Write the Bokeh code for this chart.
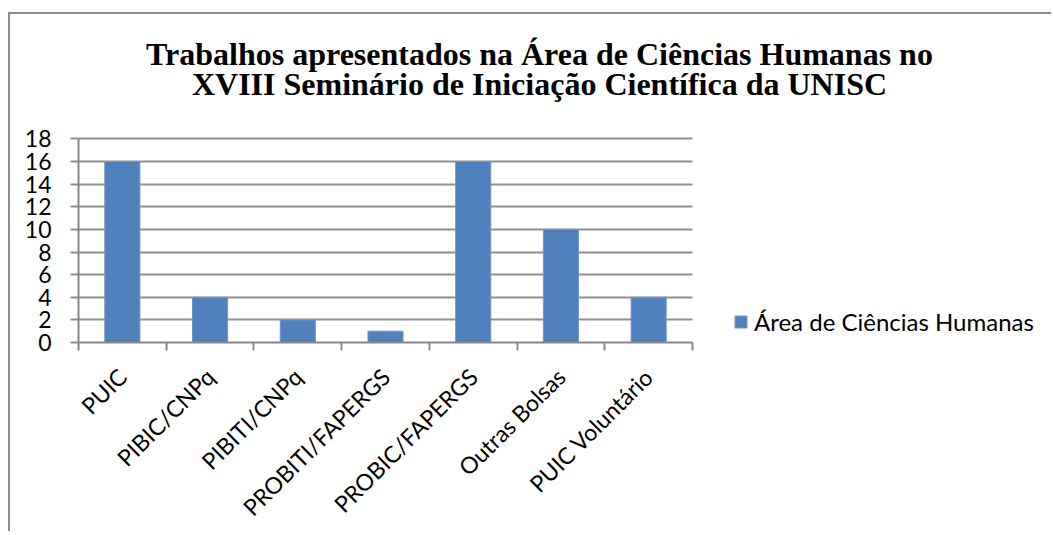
from math import pi
from bokeh.plotting import figure
from bokeh.models import FixedTicker, Legend, LegendItem, Range1d, Label, Grid
from bokeh.embed import file_html
from bokeh.resources import INLINE

categories = ["PUIC", "PIBIC/CNPq", "PIBITI/CNPq", "PROBITI/FAPERGS",
              "PROBIC/FAPERGS", "Outras Bolsas", "PUIC Voluntário"]
counts = [16, 4, 2, 1, 16, 10, 4]
y_ticks = [0, 2, 4, 6, 8, 10, 12, 14, 16, 18]
series_name = "Área de Ciências Humanas"
title_lines = ["Trabalhos apresentados na Área de Ciências Humanas no",
               "XVIII Seminário de Iniciação Científica da UNISC"]

BAR = "#4F81BD"
AX = "#868686"
GRID = "#8f8f8f"
FONT = "Lato"
FS = "23px"

n = len(categories)
xs = list(range(n))
y_max = y_ticks[-1]

# layout (pixels)
W, H = 1043, 519
LEFT, BOTTOM = 68, 187
frame_w, frame_h = W - LEFT, H - BOTTOM
plot_w, plot_h = 614, 206          # width/height of the category/value area
x_lo, x_hi = -0.5, n - 0.5
x_end = x_lo + n * frame_w / plot_w
y_end = y_max * frame_h / plot_h

p = figure(width=W, height=H, output_backend="svg", toolbar_location=None,
           title=None,
           x_range=Range1d(x_lo, x_end), y_range=Range1d(0, y_end),
           min_border_left=LEFT, min_border_right=0,
           min_border_top=0, min_border_bottom=BOTTOM)
p.styles = {"border-top": "2px solid #8a8a8a", "border-left": "2px solid #8a8a8a",
            "margin-top": "12px", "margin-left": "8px"}
p.outline_line_color = None
p.background_fill_color = "white"
p.border_fill_color = "white"

# grid lines limited to the value area
p.xgrid.visible = False
yg = p.ygrid[0]
yg.ticker = FixedTicker(ticks=y_ticks, minor_ticks=[])
yg.bounds = (0, y_max)
if "cross_bounds" in Grid.properties():
    yg.cross_bounds = (x_lo, x_hi)
    yg.grid_line_color = GRID
    yg.grid_line_width = 2
else:
    yg.visible = False
    p.segment(x0=[x_lo] * len(y_ticks), x1=[x_hi] * len(y_ticks), y0=y_ticks, y1=y_ticks,
              line_color=GRID, line_width=2)

r = p.vbar(x=xs, top=counts, width=0.4, fill_color=BAR, line_color="#6f97c9", line_width=1)

# x axis
xa = p.xaxis[0]
xa.bounds = (x_lo, x_hi)
xa.ticker = FixedTicker(ticks=xs, minor_ticks=[i - 0.5 for i in range(n + 1)])
xa.major_label_overrides = {i: c for i, c in enumerate(categories)}
xa.major_tick_out = 0
xa.major_tick_in = 0
xa.minor_tick_out = 8
xa.minor_tick_in = 0
xa.minor_tick_line_color = AX
xa.minor_tick_line_width = 2
xa.axis_line_color = AX
xa.axis_line_width = 2
xa.major_label_orientation = pi / 4
xa.major_label_standoff = 22
xa.major_label_text_font = FONT
xa.major_label_text_font_size = FS
xa.major_label_text_color = "black"

# y axis
ya = p.yaxis[0]
ya.bounds = (0, y_max)
ya.ticker = FixedTicker(ticks=y_ticks, minor_ticks=[])
ya.major_tick_out = 8
ya.major_tick_in = 0
ya.major_tick_line_color = GRID
ya.major_tick_line_width = 2
ya.axis_line_color = AX
ya.axis_line_width = 2
ya.major_label_standoff = 19
ya.major_label_text_font = FONT
ya.major_label_text_font_size = FS
ya.major_label_text_color = "black"

legend = Legend(items=[LegendItem(label=series_name, renderers=[r])],
                location=(655, 6), border_line_color=None, background_fill_alpha=0,
                padding=0, margin=0, glyph_width=15, glyph_height=15,
                label_standoff=6, label_text_font=FONT, label_text_font_size="24px",
                label_text_color="black")
p.add_layout(legend)

for txt, yy in zip(title_lines, [289, 259]):
    p.add_layout(Label(x=461, y=yy, x_units="screen", y_units="screen", text=txt,
                       text_align="center", text_baseline="alphabetic",
                       text_font="Liberation Serif", text_font_style="bold",
                       text_font_size="32px", text_color="black"))

open("out.html", "w").write(file_html(p, INLINE))
